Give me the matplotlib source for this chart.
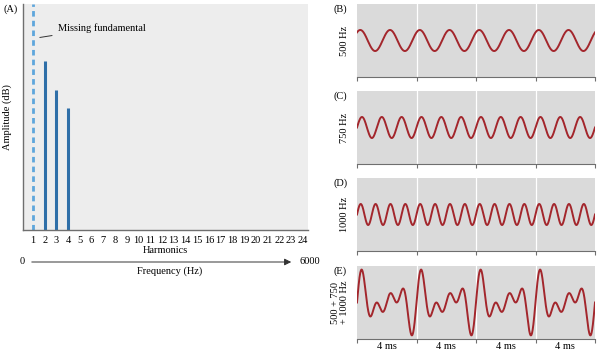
import numpy as np
import matplotlib.pyplot as plt

plt.rcParams["font.family"] = ["Liberation Serif", "DejaVu Serif"]

# Panel A: harmonic spectrum
HARMONICS = list(range(1, 25))
PRESENT_HARM = [2, 3, 4]
PRESENT_AMP = [0.75, 0.62, 0.54]
MISSING_HARM = 1

# Panels B-E: waveforms over 16 ms
TONE_HZ = [500, 750, 1000]
TONE_PHASE = [np.pi / 2, 0.0, 0.0]     # 500 Hz tone is drawn as a cosine
TONE_DELAY_MS = [0.22, 0.0, 0.0]
TONE_AMP = 0.88
PANEL_LABELS = ["(B)", "(C)", "(D)", "(E)"]
PANEL_YLABELS = ["500 Hz", "750 Hz", "1000 Hz", "500 + 750\n+ 1000 Hz"]
SEG_LABELS = ["4 ms", "4 ms", "4 ms", "4 ms"]
T_END_MS = 16

W, H = 600, 352
fig = plt.figure(figsize=(W / 100, H / 100), dpi=100)


def px_axes(x0, y0, x1, y1):
    return fig.add_axes([x0 / W, 1 - y1 / H, (x1 - x0) / W, (y1 - y0) / H])


# ---------- A ----------
ax = px_axes(23, 4, 308, 230)
ax.set_facecolor("#ededed")
ax.vlines(PRESENT_HARM, 0, PRESENT_AMP, color="#2f6fa8", lw=2.2)
ax.axvline(MISSING_HARM, color="#5ea6dc", lw=2.0, ls=(0, (2.0, 1.5)))
ax.set_xlim(0.15, 24.45)
ax.set_ylim(0, 1)
ax.set_xticks(HARMONICS)
ax.set_xticklabels([str(h) for h in HARMONICS], fontsize=7.5)
ax.tick_params(axis="x", length=0, pad=4)
ax.set_yticks([])
for s in ["top", "right"]:
    ax.spines[s].set_visible(False)
for s in ["left", "bottom"]:
    ax.spines[s].set_color("#6f6f6f")
    ax.spines[s].set_linewidth(1.0)
ax.set_xlabel("Harmonics", fontsize=7.5, labelpad=1)
ax.set_ylabel("Amplitude (dB)", fontsize=7.5, labelpad=8)
ax.annotate("Missing fundamental", xy=(1.35, 0.85), xytext=(3.1, 0.895),
            fontsize=7.5, va="center",
            arrowprops=dict(arrowstyle="-", color="#333333", lw=0.7))
fig.text(3 / W, 1 - 9 / H, "(A)", fontsize=7.5, va="center")

# frequency axis arrow below panel A
ya = 1 - 262 / H
fig.text(22 / W, ya, "0", fontsize=7.5, va="center", ha="center")
fig.text(300 / W, ya, "6000", fontsize=7.5, va="center", ha="left")
fig.patches.append(plt.matplotlib.patches.FancyArrowPatch(
    (29 / W, ya), (294 / W, ya), transform=fig.transFigure,
    arrowstyle="-|>,head_length=4,head_width=2", color="#333333", lw=0.7,
    mutation_scale=1))
fig.text(170 / W, 1 - 271 / H, "Frequency (Hz)", fontsize=7.5,
         va="center", ha="center")

# ---------- B-E ----------
t = np.linspace(0, T_END_MS, 1600)
waves = [TONE_AMP * np.sin(2 * np.pi * f * (t - d) / 1000 + p)
         for f, d, p in zip(TONE_HZ, TONE_DELAY_MS, TONE_PHASE)]
waves.append(sum(np.sin(2 * np.pi * f * t / 1000) for f in TONE_HZ))

rows = [(4, 77), (91, 164), (178, 251), (266, 339)]
for i, (y0, y1) in enumerate(rows):
    a = px_axes(357, y0, 595, y1)
    a.set_facecolor("#dadada")
    a.plot(t, waves[i], color="#a3262c", lw=1.4)
    a.set_xlim(0, T_END_MS)
    a.set_ylim(-3.05, 3.05)
    for g in [4, 8, 12]:
        a.axvline(g, color="white", lw=0.9, zorder=0.5)
    a.set_yticks([])
    a.set_xticks([0, 4, 8, 12, 16])
    a.set_xticklabels([])
    a.tick_params(axis="x", length=3, width=0.8, color="#6f6f6f")
    for s in ["top", "right", "left"]:
        a.spines[s].set_visible(False)
    a.spines["bottom"].set_color("#6f6f6f")
    a.set_ylabel(PANEL_YLABELS[i], fontsize=7.5, labelpad=6, linespacing=1.0)
    fig.text(334 / W, 1 - (y0 + 5) / H, PANEL_LABELS[i], fontsize=7.5, va="center")
    if i == len(rows) - 1:
        for k, lab in enumerate(SEG_LABELS):
            a.text(4 * k + 2, -0.1, lab, transform=a.get_xaxis_transform(),
                   fontsize=7.5, ha="center", va="center")

fig.savefig("out.png", dpi=100)
